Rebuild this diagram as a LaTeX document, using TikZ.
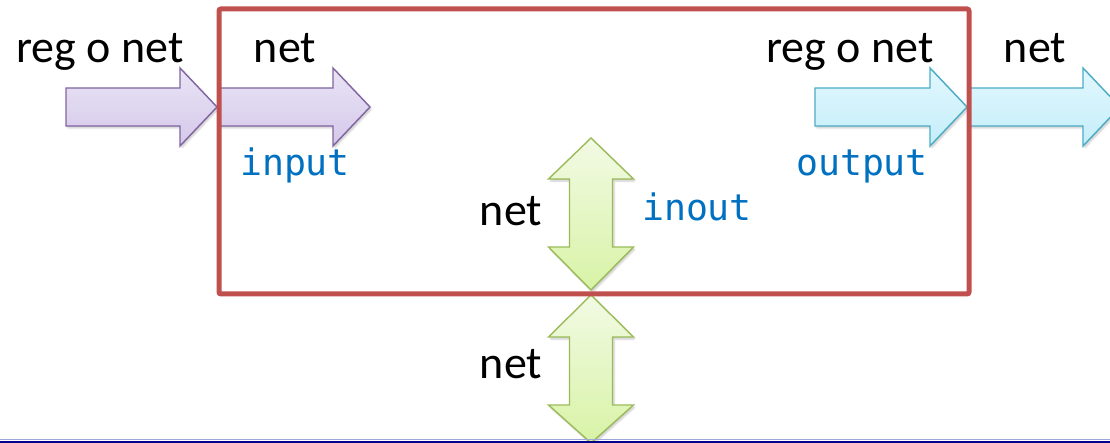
\documentclass[tikz,border=0pt]{standalone}
\usepackage{fontspec}
\setmainfont{Carlito}
\newfontfamily\codefont{DejaVu Sans Mono}
\usetikzlibrary{shadows.blur}

\definecolor{boxred}{HTML}{C0504D}
\definecolor{purpleedge}{HTML}{8064A2}
\definecolor{purpletop}{HTML}{EAE4F5}
\definecolor{purplebot}{HTML}{D4C8EA}
\definecolor{cyanedge}{HTML}{4BACC6}
\definecolor{cyantop}{HTML}{E2F7FD}
\definecolor{cyanbot}{HTML}{C4EEFA}
\definecolor{greenedge}{HTML}{9BBB59}
\definecolor{greentop}{HTML}{F2FAE4}
\definecolor{greenbot}{HTML}{D8F3A6}
\definecolor{codeblue}{HTML}{0070C0}
\definecolor{rulenavy}{HTML}{00008C}
\definecolor{rulelight}{HTML}{9DA8D8}

% right-pointing block arrow: style, tail x, head base x, tip x, centre y
\newcommand{\BlockRight}[5]{%
  \path[#1] (#2,#5-19) -- (#3,#5-19) -- (#3,#5-39) -- (#4,#5)
    -- (#3,#5+39) -- (#3,#5+19) -- (#2,#5+19) -- cycle;}
% vertical double block arrow: style, top tip y, upper head base y, lower head base y, bottom tip y
\newcommand{\BlockUpDown}[5]{%
  \path[#1] (591,#2) -- (591+42.5,#3) -- (591+21.5,#3) -- (591+21.5,#4)
    -- (591+42.5,#4) -- (591,#5) -- (591-42.5,#4) -- (591-21.5,#4)
    -- (591-21.5,#3) -- (591-42.5,#3) -- cycle;}

\begin{document}
\begin{tikzpicture}[x=1pt,y=-1pt,
  arrowshadow/.style={blur shadow={shadow xshift=1.5pt,shadow yshift=-2pt,
      shadow opacity=22,shadow blur steps=6,shadow blur extra rounding=1pt}},
  purplearrow/.style={draw=purpleedge,line width=1.4pt,line join=miter,
      top color=purpletop,bottom color=purplebot,arrowshadow},
  cyanarrow/.style={draw=cyanedge,line width=1.4pt,line join=miter,
      top color=cyantop,bottom color=cyanbot,arrowshadow},
  greenarrow/.style={draw=greenedge,line width=1.4pt,line join=miter,
      top color=greentop,bottom color=greenbot,arrowshadow},
  kind/.style={font=\fontsize{46}{50}\selectfont,text=black,inner sep=0pt,anchor=base},
  port/.style={font=\codefont\fontsize{36.5}{40}\selectfont,text=codeblue,inner sep=0pt,anchor=base},
  modulebox/.style={draw=boxred,line width=5pt,rounded corners=2pt}]

\useasboundingbox (0,0) rectangle (1110,443);

% signal arrows
\BlockRight{purplearrow}{66}{180}{217}{107}
\BlockRight{purplearrow}{218}{333}{370}{107}
\BlockRight{cyanarrow}{815}{930}{967}{107}
\BlockRight{cyanarrow}{968}{1083}{1120}{107}
\BlockUpDown{greenarrow}{138}{179}{247}{290}
\BlockUpDown{greenarrow}{295}{337}{405}{443}

% module outline
\draw[modulebox] (219,9) rectangle (969,294);

% bottom rule
\draw[rulelight,line width=1pt] (0,439.5) -- (1110,439.5);
\draw[rulenavy,line width=2.5pt] (0,442) -- (1110,442);

% data type labels
\node[kind] (inext) at (100,63) {reg o net};
\node[kind] (inint) at (285,63) {net};
\node[kind] (outint) at (850,63) {reg o net};
\node[kind] (outext) at (1035,63) {net};
\node[kind] (ioint) at (511,226) {net};
\node[kind] (ioext) at (511,378) {net};

% port keywords
\node[port] (kwin) at (295,176) {input};
\node[port] (kwout) at (862,176) {output};
\node[port] (kwio) at (697,221) {inout};

\end{tikzpicture}
\end{document}
